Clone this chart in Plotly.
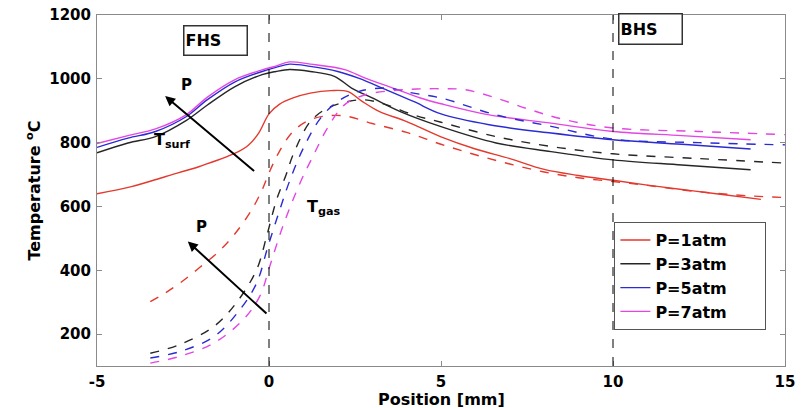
import plotly.graph_objects as go

# ---- data ----
red_surf_x = [-5, -4, -3, -2, -1, -0.6, -0.3, 0, 0.3, 0.7, 1.2, 1.8, 2.3, 2.7, 3.2, 4, 5, 6, 7, 8, 9, 10, 11, 12, 13, 14.3]
red_surf_y = [640, 662, 694, 726, 766, 792, 830, 890, 920, 940, 955, 963, 960, 930, 898, 866, 818, 780, 750, 716, 697, 682, 667, 653, 640, 622]

red_gas_x = [-3.45, -3, -2.5, -2, -1.5, -1, -0.5, -0.2, 0, 0.3, 0.7, 1.2, 1.8, 2.3, 3, 4, 5, 6, 7, 8, 9, 10, 11, 12, 13, 14, 15]
red_gas_y = [302, 330, 367, 410, 455, 513, 590, 652, 705, 772, 835, 872, 885, 882, 860, 832, 795, 762, 733, 708, 690, 678, 666, 652, 641, 633, 628]

black_surf_x = [-5, -4.1, -3.3, -2.4, -1.8, -1, -0.2, 0.2, 0.6, 1.2, 1.9, 2.4, 3, 3.8, 5, 6.6, 8.2, 10, 12, 14]
black_surf_y = [768, 799, 819, 870, 917, 975, 1013, 1023, 1029, 1023, 1008, 971, 940, 898, 850, 799, 772, 746, 730, 715]

black_gas_x = [-3.45, -2.6, -1.6, -0.95, -0.36, -0.07, 0.22, 0.5, 0.7, 1.2, 1.7, 2.3, 2.8, 3.4, 4.2, 5, 6.6, 8.2, 10, 12.5, 15]
black_gas_y = [140, 167, 224, 298, 402, 506, 621, 700, 762, 866, 908, 929, 934, 919, 887, 864, 819, 788, 765, 750, 736]

blue_surf_x = [-5, -4.1, -3.3, -2.4, -1.8, -1, -0.2, 0.2, 0.6, 1.2, 2, 2.6, 3.4, 4.2, 5, 6.4, 8.2, 10, 12, 14]
blue_surf_y = [785, 814, 835, 882, 934, 990, 1023, 1036, 1046, 1039, 1023, 1002, 966, 929, 890, 856, 830, 809, 795, 780]

blue_gas_x = [-3.45, -2.6, -1.6, -0.85, -0.36, -0.03, 0.3, 0.6, 1, 1.5, 2, 2.6, 3.4, 4.2, 5, 6.6, 8.2, 10, 12.5, 15]
blue_gas_y = [125, 145, 192, 276, 360, 475, 585, 680, 783, 877, 929, 960, 971, 955, 940, 887, 851, 811, 800, 793]

magenta_surf_x = [-5, -4.1, -3.3, -2.4, -1.8, -1, -0.2, 0.2, 0.6, 1.2, 2.2, 2.8, 3.6, 4.4, 5, 6.4, 8.2, 10, 12, 14]
magenta_surf_y = [797, 822, 843, 888, 942, 997, 1028, 1040, 1053, 1046, 1029, 1002, 971, 940, 922, 887, 861, 835, 822, 809]

magenta_gas_x = [-3.45, -2.6, -1.6, -0.75, -0.27, 0.02, 0.4, 0.9, 1.3, 1.7, 2.2, 2.8, 3.6, 4.3, 5, 5.7, 6.6, 7.6, 8.6, 10, 12.5, 15]
magenta_gas_y = [109, 130, 172, 245, 318, 412, 537, 673, 762, 846, 919, 950, 963, 968, 969, 966, 940, 903, 872, 846, 835, 825]

series_names = ["P=1atm", "P=3atm", "P=5atm", "P=7atm"]
series_colors = ["#e3392e", "#262626", "#2b2bd2", "#e445e4"]
x_ticks = [-5, 0, 5, 10, 15]
y_ticks = [200, 400, 600, 800, 1000, 1200]
zone_boundaries = [0, 10]
x_title = "Position [mm]"
y_title = "Temperature <sup>o</sup>C"

surf = [(red_surf_x, red_surf_y), (black_surf_x, black_surf_y),
        (blue_surf_x, blue_surf_y), (magenta_surf_x, magenta_surf_y)]
gas = [(red_gas_x, red_gas_y), (black_gas_x, black_gas_y),
       (blue_gas_x, blue_gas_y), (magenta_gas_x, magenta_gas_y)]

FONT = "DejaVu Sans"
PAD = "\u00a0" * 6  # legend box has extra room on the right in the reference

fig = go.Figure()
for (sx, sy), name, col in zip(surf, series_names, series_colors):
    fig.add_trace(go.Scatter(x=sx, y=sy, mode="lines", name=name + PAD,
                             line=dict(color=col, width=1.4, shape="spline", smoothing=1.0)))
for (gx, gy), name, col in zip(gas, series_names, series_colors):
    fig.add_trace(go.Scatter(x=gx, y=gy, mode="lines", name=name, showlegend=False,
                             line=dict(color=col, width=1.4, dash="dash", shape="spline", smoothing=1.0)))

for xb in zone_boundaries:
    fig.add_shape(type="line", xref="x", yref="paper", x0=xb, x1=xb, y0=0, y1=1,
                  line=dict(color="black", width=1, dash="dash"))

ann_font = dict(family=FONT, size=16, color="black", weight="bold")
annotations = [
    # zone boxes
    dict(x=-1.56, y=1121, text="FHS", showarrow=False, font=ann_font, width=60, height=26,
         align="left", bordercolor="#333", borderwidth=1.5, borderpad=1, bgcolor="white"),
    dict(x=11.1, y=1155, text="BHS", showarrow=False, font=ann_font, width=60, height=27,
         align="left", bordercolor="#333", borderwidth=1.5, borderpad=1, bgcolor="white"),
    # arrows
    dict(x=-3.02, y=946, ax=-0.39, ay=707, xref="x", yref="y", axref="x", ayref="y",
         text="", showarrow=True, arrowhead=2, arrowsize=1, arrowwidth=2, arrowcolor="black"),
    dict(x=-2.36, y=490, ax=-0.03, ay=260, xref="x", yref="y", axref="x", ayref="y",
         text="", showarrow=True, arrowhead=2, arrowsize=1, arrowwidth=2, arrowcolor="black"),
    dict(x=-2.4, y=981, text="P", showarrow=False, font=dict(family=FONT, size=15, color="black", weight="bold")),
    dict(x=-1.97, y=537, text="P", showarrow=False, font=dict(family=FONT, size=15, color="black", weight="bold")),
    dict(x=-3.41, y=845, text="T<sub>surf</sub>", showarrow=False, xanchor="left", yanchor="top",
         font=dict(family=FONT, size=16, color="black", weight="bold")),
    dict(x=1.05, y=636, text="T<sub>gas</sub>", showarrow=False, xanchor="left", yanchor="top",
         font=dict(family=FONT, size=16, color="black", weight="bold")),
    # x-axis title
    dict(x=0.5, y=-0.095, xref="paper", yref="paper", text=x_title, showarrow=False,
         xanchor="center", yanchor="middle",
         font=dict(family=FONT, size=16, color="black", weight="bold")),
]
for a in annotations:
    a.setdefault("xref", "x")
    a.setdefault("yref", "y")
    fig.add_annotation(**a)

axis_common = dict(showline=True, linecolor="#8a8a8a", linewidth=1, mirror="ticks",
                   ticks="inside", ticklen=5, tickcolor="#8a8a8a", showgrid=False, zeroline=False,
                   automargin=False,
                   tickfont=dict(family=FONT, size=15, color="black", weight="bold"))

fig.update_layout(
    width=806, height=408,
    margin=dict(l=97, r=21, t=15, b=42),
    paper_bgcolor="white", plot_bgcolor="white",
    xaxis=dict(range=[-5, 15], tickvals=x_ticks, ticktext=[str(v) for v in x_ticks],
               ticklabelstandoff=2, **axis_common),
    yaxis=dict(range=[100, 1200], tickvals=y_ticks, ticklabelstandoff=2,
               title=dict(text=y_title, standoff=4,
                          font=dict(family=FONT, size=16, color="black", weight="bold")),
               **axis_common),
    legend=dict(x=0.752, y=0.41, xanchor="left", yanchor="top",
                bordercolor="#555", borderwidth=1, bgcolor="white",
                font=dict(family=FONT, size=16, color="black", weight="bold"),
                itemwidth=30, tracegroupgap=0),
    showlegend=True,
)

fig.write_html("out.html")
